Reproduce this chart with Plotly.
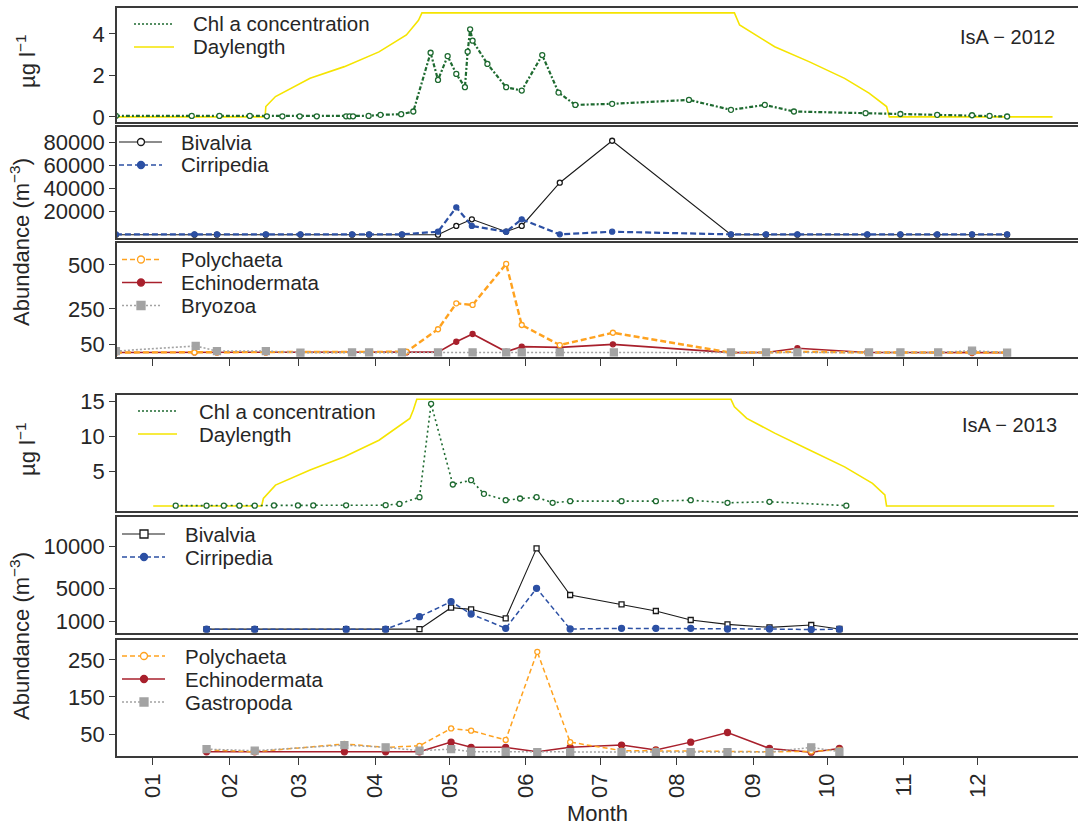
import plotly.graph_objects as go

# ---------------- data (x = day of year) ----------------
MONTH_LABELS = ["01", "02", "03", "04", "05", "06", "07", "08", "09", "10", "11", "12"]
MONTH_START_DOY = [1, 32, 60, 91, 121, 152, 182, 213, 244, 274, 305, 335]

# 2012 - chlorophyll a (ug/l)
chl12_doy = [-14, 16.7, 27.9, 40.2, 47.1, 53.4, 60.4, 67.3, 79.2, 80.6, 82.0, 88.3, 93.1, 101.5,
             106.4, 113.4, 116.4, 120.3, 123.8, 127.3, 128.4, 129.4, 130.4, 136.4, 144.0, 150.3,
             158.6, 165.2, 172.0, 186.9, 218.0, 235.0, 248.7, 260.5, 289.5, 303.6, 318.5, 332.6,
             339.7, 346.8]
chl12 = [0.05, 0.05, 0.05, 0.05, 0.03, 0.03, 0.03, 0.03, 0.03, 0.03, 0.03, 0.05, 0.10, 0.13,
         0.26, 3.09, 1.78, 2.93, 2.07, 1.43, 3.14, 4.22, 3.67, 2.55, 1.43, 1.27,
         2.98, 1.17, 0.58, 0.63, 0.82, 0.34, 0.58, 0.26, 0.18, 0.14, 0.10, 0.08,
         0.05, 0.02]

# 2012 - daylength (hours)
day12_doy = [-14, 46.4, 46.7, 50.6, 64.6, 78.5, 92.5, 103.6, 108.5, 109.9, 236.4, 238.5, 252.7,
             266.8, 281.0, 290.9, 298.0, 299.1, 365.2]
day12_hours = [0, 0, 2.4, 4.7, 8.9, 11.6, 15.0, 18.9, 22.3, 24, 24, 21.2, 16.2,
               12.7, 8.9, 5.5, 2.4, 0, 0]

# 2012 - Bivalvia / Cirripedia (ind. m-3)
zoo12_doy = [-14, 17.8, 26.9, 46.7, 60.7, 81.6, 88.5, 101.8, 116.4, 123.8, 130.1, 144.0, 150.3,
             165.7, 186.9, 235.0, 249.2, 261.9, 290.2, 303.6, 318.5, 332.6, 346.8]
bivalvia12 = [0, 0, 0, 0, 0, 0, 0, 0, 0, 7600, 13400, 2600, 7600,
              45200, 81700, 0, 0, 0, 0, 0, 0, 0, 0]
cirripedia12 = [300, 300, 300, 300, 300, 300, 300, 300, 2600, 23800, 7600, 2600, 13400,
                300, 2600, 300, 300, 300, 300, 300, 300, 300, 300]

# 2012 - Polychaeta / Echinodermata / Bryozoa
mero12_doy = [-14, 17.8, 26.9, 46.7, 60.7, 81.6, 88.5, 103.6, 116.4, 123.8, 130.4, 144.0, 150.3,
              165.7, 187.2, 235.0, 249.2, 261.9, 290.2, 303.6, 318.5, 332.6, 346.8]
polychaeta12 = [3, 3, 3, 3, 3, 3, 3, 7, 135, 282, 273, 506, 159,
                45, 115, 2, 3, 7, 3, 3, 3, 3, 3]
echinodermata12 = [3, 3, 3, 3, 3, 3, 3, 3, 5, 64, 108, 7, 36,
                   32, 49, 2, 3, 27, 3, 3, 3, 0, 2]
bryo12_doy = [-14, 18.3, 26.9, 46.7, 60.7, 81.6, 88.5, 101.8, 116.4, 130.4, 144.0, 150.3, 165.7,
              187.6, 235.0, 249.2, 261.9, 290.9, 303.6, 318.9, 332.6, 346.8]
bryozoa12 = [11, 40, 11, 11, 2, 3, 3, 3, 3, 3, 3, 3, 3,
             3, 3, 3, 3, 3, 3, 3, 13, 2]

# 2013 - chlorophyll a
chl13_doy = [10.2, 22.7, 29.7, 36.0, 42.2, 50.0, 59.7, 65.9, 79.2, 95.2, 100.8, 108.9, 113.6,
             122.4, 129.8, 135.0, 143.8, 149.6, 156.3, 162.8, 169.9, 190.7, 204.6, 218.7, 233.6,
             250.6, 281.7]
chl13 = [0.05, 0.05, 0.05, 0.05, 0.05, 0.08, 0.08, 0.08, 0.10, 0.12, 0.30, 1.26, 14.6,
         3.07, 3.69, 1.74, 0.83, 1.07, 1.26, 0.46, 0.69, 0.69, 0.69, 0.83, 0.46,
         0.60, 0.05]

# 2013 - daylength (hours)
day13_doy = [1.1, 45.0, 45.7, 50.6, 64.6, 78.5, 92.5, 105.0, 106.4, 107.8, 235.0, 236.4, 241.4,
             252.7, 266.8, 281.0, 292.3, 297.3, 298.0, 365.9]
day13_hours = [0, 0, 1.7, 4.7, 8.1, 11.1, 14.8, 19.7, 21.6, 24, 24, 22.3, 19.7,
               16.4, 12.6, 8.8, 5.1, 2.5, 0, 0]

# 2013 - Bivalvia / Cirripedia
zoo13_doy = [22.7, 42.2, 79.2, 95.2, 108.9, 121.7, 129.8, 143.8, 156.3, 169.9, 190.7, 204.6,
             218.7, 233.6, 250.6, 267.5, 278.9]
bivalvia13 = [100, 100, 100, 100, 100, 2680, 2480, 1400, 9800, 4200, 3080, 2280,
              1200, 680, 320, 600, 120]
cirripedia13 = [100, 100, 100, 100, 1600, 3400, 1920, 200, 5000, 120, 200, 200,
                200, 120, 120, 50, 100]

# 2013 - Polychaeta / Echinodermata / Gastropoda
mero13_doy = [22.7, 42.2, 78.5, 95.2, 108.9, 121.7, 129.8, 143.8, 156.6, 169.9, 190.7, 204.6,
              218.7, 233.6, 250.6, 267.5, 278.9]
polychaeta13 = [7, 2, 23, 14, 18, 65, 59, 34, 272, 28, 5, 5, 3, 3, 2, 3, 7]
echinodermata13 = [2, 2, 2, 2, 2, 28, 14, 14, 2, 14, 20, 7, 28, 54, 11, 1, 11]
gastropoda13 = [9, 5, 20, 14, 5, 9, 2, 2, 1, 1, 1, 1, 1, 1, 1, 14, 2]

# ---------------- styling ----------------
FONT = "Liberation Sans, Arial, Helvetica, sans-serif"
TXT = "#262626"
AX = "#3a3a3a"
GREEN = "#1e6a30"
YELLOW = "#f5e400"
BLACK = "#1a1a1a"
BLUE = "#2c50a4"
ORANGE = "#ffa21f"
RED = "#a8202c"
GREY = "#a3a3a3"

W, H = 1078, 828
ML, MT, MB = 117, 8, 72
PW, PH = W - ML, H - MT - MB


def fx(px):
    return (px - ML) / PW


def fy(py):
    return (H - MB - py) / PH


PANELS = [
    dict(top=8.3, bot=121.7, yrange=[-0.23, 5.23], ticks=[0, 2, 4]),
    dict(top=127.3, bot=238.3, yrange=[-3130, 93390], ticks=[20000, 40000, 60000, 80000]),
    dict(top=243.3, bot=357, yrange=[-22.7, 623], ticks=[50, 250, 500]),
    dict(top=395, bot=511, yrange=[-0.714, 15.857], ticks=[5, 10, 15]),
    dict(top=517.3, bot=633.3, yrange=[-396, 13530], ticks=[1000, 5000, 10000]),
    dict(top=640, bot=756, yrange=[-9.46, 304], ticks=[50, 150, 250]),
]
X_RANGE = [-13.56, 375.5]
DAY_SCALE12 = 5.01 / 24
DAY_SCALE13 = 15.24 / 24

fig = go.Figure()


def add(p, x, y, color, dash="solid", width=1.5, symbol=None, msize=6, name="", open_marker=False):
    ax = "" if p == 1 else str(p)
    mk = None
    if symbol:
        mk = dict(symbol=symbol, size=msize,
                  color="white" if open_marker else color,
                  line=dict(color=color, width=1.3))
    fig.add_trace(go.Scatter(
        x=x, y=y, name=name, showlegend=False,
        mode="lines+markers" if symbol else "lines",
        line=dict(color=color, dash=dash, width=width),
        marker=mk, xaxis="x" + ax, yaxis="y" + ax, cliponaxis=True,
        hoverinfo="x+y+name"))


# panel 1 (2012 chl + daylength)
add(1, day12_doy, [h * DAY_SCALE12 for h in day12_hours], YELLOW, "solid", 1.6, name="Daylength")
add(1, chl12_doy, chl12, GREEN, "4px,2px,2px,2px", 2.2, "circle", 5, "Chl a concentration", True)
# panel 2
add(2, zoo12_doy, bivalvia12, BLACK, "solid", 1.1, "circle", 5, "Bivalvia", True)
add(2, zoo12_doy, cirripedia12, BLUE, "6px,3px", 2.2, "circle", 5, "Cirripedia")
# panel 3
add(3, mero12_doy, echinodermata12, RED, "solid", 1.6, "circle", 5, "Echinodermata")
add(3, mero12_doy, polychaeta12, ORANGE, "6px,3px", 2.4, "circle", 5, "Polychaeta", True)
add(3, bryo12_doy, bryozoa12, GREY, "2px,2px", 1.6, "square", 7, "Bryozoa")
# panel 4
add(4, day13_doy, [h * DAY_SCALE13 for h in day13_hours], YELLOW, "solid", 1.6, name="Daylength")
add(4, chl13_doy, chl13, GREEN, "2px,3px", 1.6, "circle", 5, "Chl a concentration", True)
# panel 5
add(5, zoo13_doy, bivalvia13, BLACK, "solid", 1.1, "square", 5, "Bivalvia", True)
add(5, zoo13_doy, cirripedia13, BLUE, "5px,3px", 1.5, "circle", 6, "Cirripedia")
# panel 6
add(6, mero13_doy, echinodermata13, RED, "solid", 1.5, "circle", 6, "Echinodermata")
add(6, mero13_doy, polychaeta13, ORANGE, "5px,3px", 1.5, "circle", 5, "Polychaeta", True)
add(6, mero13_doy, gastropoda13, GREY, "2px,2px", 1.5, "square", 7, "Gastropoda")

# ---------------- axes ----------------
layout = dict(
    width=W, height=H,
    margin=dict(l=ML, r=0, t=MT, b=MB),
    paper_bgcolor="white", plot_bgcolor="white",
    font=dict(family=FONT, size=22, color=TXT),
    showlegend=False,
)
for i, p in enumerate(PANELS, start=1):
    sfx = "" if i == 1 else str(i)
    bottom_ticks = i in (3, 6)
    layout["xaxis" + sfx] = dict(
        domain=[0, 1], range=X_RANGE, anchor="y" + sfx,
        showline=True, mirror=True, linecolor=AX, linewidth=1.6,
        showgrid=False, zeroline=False,
        tickmode="array", tickvals=MONTH_START_DOY, ticktext=MONTH_LABELS,
        ticks="outside" if bottom_ticks else "", ticklen=7, tickwidth=1.3, tickcolor=AX,
        showticklabels=(i == 6), tickangle=-90,
        tickfont=dict(family=FONT, size=22, color=TXT),
    )
    layout["yaxis" + sfx] = dict(
        domain=[max(0, fy(p["bot"])), min(1, fy(p["top"]))], range=p["yrange"],
        anchor="x" + sfx,
        showline=True, mirror=False, linecolor=AX, linewidth=1.6,
        showgrid=False, zeroline=False,
        tickmode="array", tickvals=p["ticks"], tickformat="d",
        ticks="outside", ticklen=6, tickwidth=1.3, tickcolor=AX,
        tickfont=dict(family=FONT, size=22, color=TXT),
    )
layout["xaxis6"]["title"] = dict(text="Month", font=dict(family=FONT, size=22, color=TXT), standoff=9)
fig.update_layout(**layout)

LEG_FONT = 20.5
LEG_DY = 23


# ---------------- custom legends (R-style, compact) ----------------
def legend(entries, lx0, lx1, mx, tx, y0):
    for k, (label, color, dash, width, marker, open_marker) in enumerate(entries):
        y = y0 + k * LEG_DY
        fig.add_shape(type="line", xref="paper", yref="paper",
                      x0=fx(lx0), x1=fx(lx1), y0=fy(y), y1=fy(y),
                      line=dict(color=color, width=width, dash=dash))
        if marker:
            r = 3.5 if marker == "circle" else 4
            fig.add_shape(type="circle" if marker == "circle" else "rect",
                          xref="paper", yref="paper",
                          xsizemode="pixel", ysizemode="pixel",
                          xanchor=fx(mx), yanchor=fy(y),
                          x0=-r, x1=r, y0=-r, y1=r,
                          fillcolor="white" if open_marker else color,
                          line=dict(color=color, width=1.3))
        fig.add_annotation(text=label, xref="paper", yref="paper",
                           x=fx(tx), y=fy(y), xanchor="left", yanchor="middle",
                           showarrow=False, borderpad=0,
                           font=dict(family=FONT, size=LEG_FONT, color=TXT))


chl_entries = [("Chl a concentration", GREEN, "2px,2px", 1.6, None, False),
               ("Daylength", YELLOW, "solid", 1.6, None, False)]
legend(chl_entries, 134, 174, None, 192, 24)
legend([("Bivalvia", BLACK, "solid", 1.1, "circle", True),
        ("Cirripedia", BLUE, "5px,3px", 1.6, "circle", False)], 119, 162, 141, 180, 142)
legend([("Polychaeta", ORANGE, "5px,3px", 1.6, "circle", True),
        ("Echinodermata", RED, "solid", 1.6, "circle", False),
        ("Bryozoa", GREY, "2px,2px", 1.6, "square", False)], 122, 162, 141, 180, 259.5)
legend(chl_entries, 138, 177, None, 198, 411)
legend([("Bivalvia", BLACK, "solid", 1.1, "square", True),
        ("Cirripedia", BLUE, "5px,3px", 1.6, "circle", False)], 122, 165, 144, 184, 534)
legend([("Polychaeta", ORANGE, "5px,3px", 1.6, "circle", True),
        ("Echinodermata", RED, "solid", 1.6, "circle", False),
        ("Gastropoda", GREY, "2px,2px", 1.6, "square", False)], 122, 165, 144, 184, 656)

# ---------------- titles / labels ----------------
for text, px, py in [("µg l<sup>−1</sup>", 26, 62), ("µg l<sup>−1</sup>", 26, 450),
                     ("Abundance (m<sup>−3</sup>)", 20, 242), ("Abundance (m<sup>−3</sup>)", 20, 636)]:
    fig.add_annotation(text=text, xref="paper", yref="paper", x=fx(px), y=fy(py),
                       xanchor="center", yanchor="middle", textangle=-90, showarrow=False,
                       font=dict(family=FONT, size=22, color=TXT))

for text, px, py in [("IsA − 2012", 1057, 37), ("IsA − 2013", 1059, 425)]:
    fig.add_annotation(text=text, xref="paper", yref="paper", x=fx(px), y=fy(py),
                       xanchor="right", yanchor="middle", showarrow=False,
                       font=dict(family=FONT, size=20, color=TXT))

# the page body has a default 8px margin; remove it so the figure fills the window exactly
fig.write_html("out.html", config={"displayModeBar": False},
               post_script="document.body.style.margin='0px';")
